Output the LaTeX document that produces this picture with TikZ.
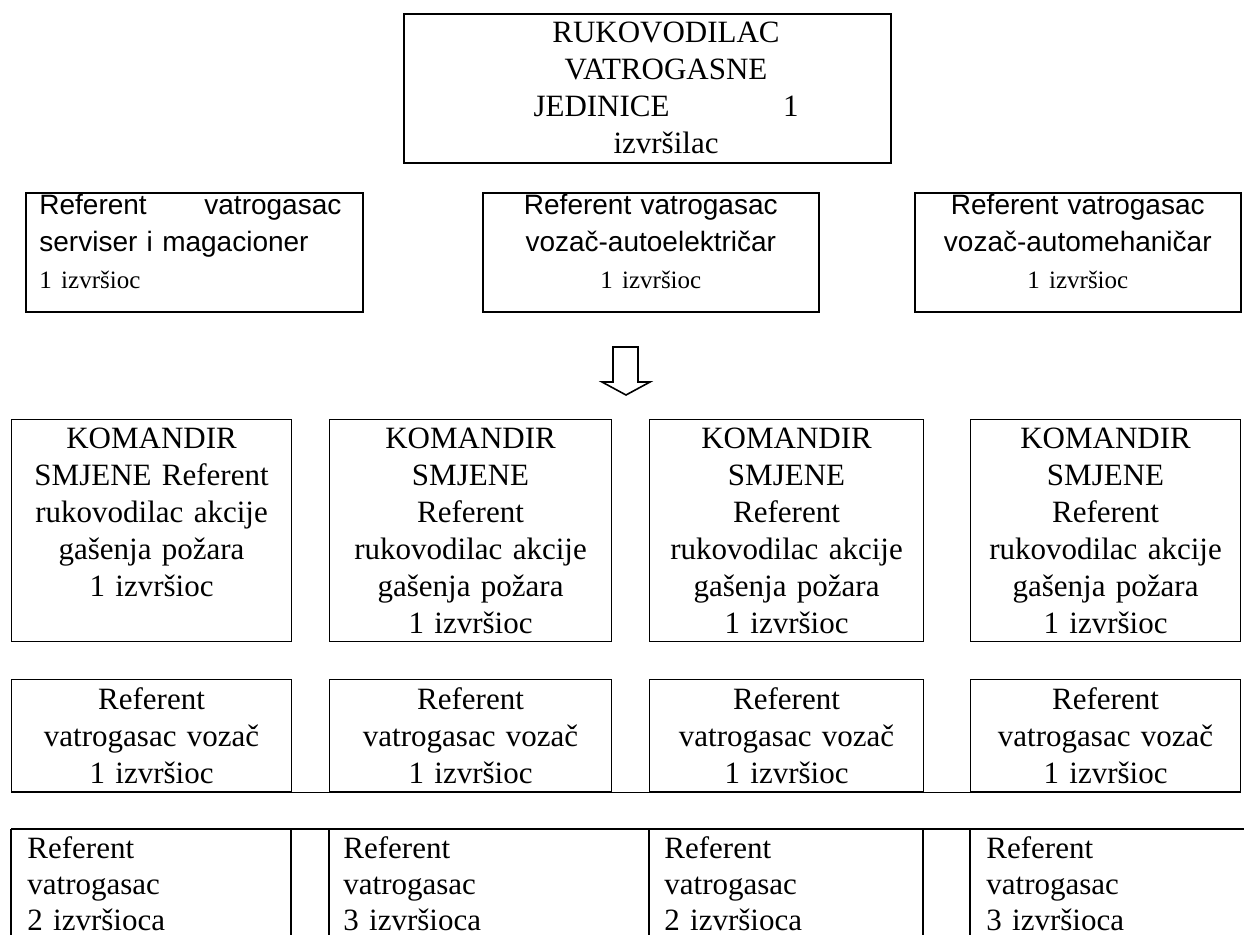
\documentclass[tikz,border=0pt]{standalone}
\usepackage{fontspec}
\setmainfont{Liberation Serif}
\setsansfont{Liberation Sans}

\newcommand{\bigserif}{\fontsize{15.5pt}{18.5pt}\selectfont}
\newcommand{\refsans}{\fontsize{14pt}{18.5pt}\sffamily}
\newcommand{\smallserif}{\fontsize{12.5pt}{17.5pt}\rmfamily}

\begin{document}
\begin{tikzpicture}[x=0.5pt, y=-0.5pt, font=\bigserif]
    \tikzstyle{thickbox} = [draw, line width=0.8pt, inner sep=0pt, anchor=north west]
    \tikzstyle{thinbox} = [draw, line width=0.55pt, inner sep=0pt, anchor=north west, align=center, text width=125pt]
    \tikzstyle{reftext} = [inner sep=0pt, anchor=base, font=\refsans, text width=160pt, align=center]
    \tikzstyle{celltext} = [inner sep=0pt, anchor=base west, text width=120pt, align=left, font=\fontsize{15.5pt}{18pt}\selectfont]
    \useasboundingbox (0,0) rectangle (1244,935);

    % rukovodilac
    \node[thickbox, minimum width=243.5pt, minimum height=74.5pt] (head) at (403,13) {};
    \node[inner sep=0pt, anchor=base, align=center, text width=132.5pt] (headtext) at (666,43) {RUKOVODILAC\\VATROGASNE\\JEDINICE\hfill 1\\izvršilac};

    % referenti
    \node[thickbox, minimum width=168.5pt, minimum height=59.5pt] (refA) at (25,192) {};
    \node[thickbox, minimum width=168pt, minimum height=59.5pt] (refB) at (482,192) {};
    \node[thickbox, minimum width=163pt, minimum height=59.5pt] (refC) at (914,192) {};
    \node[reftext, anchor=base west, align=left, text width=151pt] (refAtext) at (39,215) {Referent\hfill vatrogasac\\serviser i magacioner\\{\smallserif 1 izvršioc}};
    \node[reftext] (refBtext) at (refB.north |- 0,215) {Referent vatrogasac\\vozač-autoelektričar\\{\smallserif 1 izvršioc}};
    \node[reftext] (refCtext) at (refC.north |- 0,215) {Referent vatrogasac\\vozač-automehaničar\\{\smallserif 1 izvršioc}};

    % strelica
    \draw[line width=0.8pt, line join=miter] (613,347) -- (638,347) -- (638,382) -- (650,382) -- (626,395) -- (602,382) -- (613,382) -- cycle;

    % komandiri smjena
    \node[thinbox, minimum width=140pt, minimum height=111pt] (kom1) at (11,419) {KOMANDIR\\SMJENE Referent\\rukovodilac akcije\\gašenja požara\\1 izvršioc\\\mbox{}};
    \node[thinbox, minimum width=141pt, minimum height=111pt] (kom2) at (329,419) {KOMANDIR\\SMJENE\\Referent\\rukovodilac akcije\\gašenja požara\\1 izvršioc};
    \node[thinbox, minimum width=137pt, minimum height=111pt] (kom3) at (649,419) {KOMANDIR\\SMJENE\\Referent\\rukovodilac akcije\\gašenja požara\\1 izvršioc};
    \node[thinbox, minimum width=135pt, minimum height=111pt] (kom4) at (970,419) {KOMANDIR\\SMJENE\\Referent\\rukovodilac akcije\\gašenja požara\\1 izvršioc};

    % vozaci
    \node[thinbox, minimum width=140pt, minimum height=56pt] (voz1) at (11,679) {Referent\\vatrogasac vozač\\1 izvršioc};
    \node[thinbox, minimum width=141pt, minimum height=56pt] (voz2) at (329,679) {Referent\\vatrogasac vozač\\1 izvršioc};
    \node[thinbox, minimum width=137pt, minimum height=56pt] (voz3) at (649,679) {Referent\\vatrogasac vozač\\1 izvršioc};
    \node[thinbox, minimum width=135pt, minimum height=56pt] (voz4) at (970,679) {Referent\\vatrogasac vozač\\1 izvršioc};
    \draw[line width=0.55pt] (voz1.south west) -- (voz4.south east);

    % vatrogasci
    \draw[line width=0.55pt] (11,829) -- (1250,829);
    \foreach \x in {11,291,329,649,923,970}
        \draw[line width=0.55pt] (\x,829) -- (\x,940);
    \node[celltext] (vat1) at (27,858) {Referent\\vatrogasac\\2 izvršioca};
    \node[celltext] (vat2) at (343,858) {Referent\\vatrogasac\\3 izvršioca};
    \node[celltext] (vat3) at (664,858) {Referent\\vatrogasac\\2 izvršioca};
    \node[celltext] (vat4) at (986,858) {Referent\\vatrogasac\\3 izvršioca};
\end{tikzpicture}
\end{document}
